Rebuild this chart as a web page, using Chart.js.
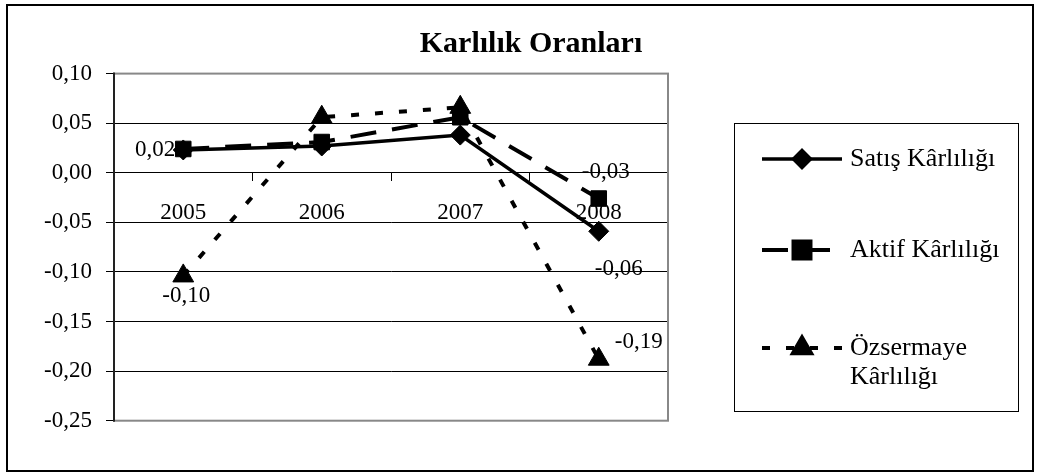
<!DOCTYPE html>
<html><head><meta charset="utf-8">
<script src="https://cdn.jsdelivr.net/npm/chart.js@4/dist/chart.umd.min.js"></script>
<style>html,body{margin:0;padding:0;background:#fff;}canvas{display:block;}</style>
</head><body>
<canvas id="c" width="1040" height="474"></canvas>
<script>
const chartTitle = 'Karlılık Oranları';
const categories = ['2005', '2006', '2007', '2008'];
const seriesNames = ['Satış Kârlılığı', 'Aktif Kârlılığı', 'Özsermaye Kârlılığı'];
const satisKarliligi = [0.023, 0.027, 0.038, -0.059];
const aktifKarliligi = [0.024, 0.031, 0.056, -0.026];
const ozsermayeKarliligi = [-0.104, 0.056, 0.066, -0.188];
const yMin = -0.25, yMax = 0.10, yStep = 0.05;

const FONT = '"Liberation Serif", "Times New Roman", serif';
const fmt = v => {
  const s = (Math.round(v * 100) / 100).toFixed(2);
  return (s === '-0.00' ? '0.00' : s).replace('.', ',');
};

// which points carry a value label, and where the label sits relative to the point
const labelPlacement = {
  '0-0': { dx: -8, dy: 0, align: 'right' },
  '0-3': { dx: 20, dy: 38, align: 'center' },
  '1-3': { dx: 7, dy: -27, align: 'center' },
  '2-0': { dx: 3, dy: 20, align: 'center' },
  '2-3': { dx: 40, dy: -17, align: 'center' }
};

const decor = {
  id: 'decor',
  beforeDraw(chart) {
    const ctx = chart.ctx;
    ctx.save();
    ctx.fillStyle = '#fff';
    ctx.fillRect(0, 0, chart.width, chart.height);
    ctx.strokeStyle = '#000';
    ctx.lineWidth = 2;
    ctx.strokeRect(7, 5, 1026, 466);
    ctx.fillStyle = '#000';
    ctx.font = 'bold 30px ' + FONT;
    ctx.textAlign = 'center';
    ctx.textBaseline = 'middle';
    ctx.fillText(chartTitle, 531, 44);
    ctx.restore();
  },
  beforeDatasetsDraw(chart) {
    const ctx = chart.ctx, a = chart.chartArea;
    ctx.save();
    ctx.strokeStyle = '#888';
    ctx.lineWidth = 2;
    ctx.strokeRect(a.left, a.top, a.right - a.left, a.bottom - a.top);
    ctx.strokeStyle = '#000';
    ctx.lineWidth = 1.5;
    ctx.beginPath();
    ctx.moveTo(a.left, a.top - 1);
    ctx.lineTo(a.left, a.bottom + 1);
    ctx.stroke();
    ctx.restore();
  },
  afterDatasetsDraw(chart) {
    const ctx = chart.ctx;
    ctx.save();
    ctx.fillStyle = '#000';
    ctx.font = '23px ' + FONT;
    ctx.textBaseline = 'middle';
    chart.data.datasets.forEach((ds, di) => {
      const meta = chart.getDatasetMeta(di);
      meta.data.forEach((pt, pi) => {
        const p = labelPlacement[di + '-' + pi];
        if (!p) return;
        ctx.textAlign = p.align;
        ctx.fillText(fmt(ds.data[pi]), pt.x + p.dx, pt.y + p.dy);
      });
    });
    // legend
    const box = { x: 734, y: 123, w: 284, h: 288 };
    ctx.strokeStyle = '#000';
    ctx.lineWidth = 1;
    ctx.strokeRect(box.x + 0.5, box.y + 0.5, box.w, box.h);
    const rows = [159, 250, 348];
    const legendMarker = [8.5, 12, 10.5];
    ctx.font = '26px ' + FONT;
    ctx.textAlign = 'left';
    chart.data.datasets.forEach((ds, di) => {
      const y = rows[di];
      ctx.strokeStyle = '#000';
      ctx.lineWidth = ds.borderWidth;
      ctx.setLineDash(ds.borderDash || []);
      ctx.beginPath();
      ctx.moveTo(762, y);
      ctx.lineTo(842, y);
      ctx.stroke();
      ctx.setLineDash([]);
      ctx.fillStyle = '#000';
      Chart.helpers.drawPoint(ctx, { pointStyle: ds.pointStyle, radius: legendMarker[di], rotation: 0, borderWidth: 1 }, 802, y);
      const words = ds.label.split(' ');
      const lines = [];
      let cur = '';
      words.forEach(w => {
        const t = cur ? cur + ' ' + w : w;
        if (ctx.measureText(t).width > 160 && cur) { lines.push(cur); cur = w; } else cur = t;
      });
      lines.push(cur);
      ctx.fillStyle = '#000';
      lines.forEach((ln, li) => ctx.fillText(ln, 850, y + li * 29));
    });
    ctx.restore();
  }
};

const common = { borderColor: '#000', backgroundColor: '#000', pointBackgroundColor: '#000', pointBorderColor: '#000', pointBorderWidth: 1, tension: 0, fill: false };

new Chart(document.getElementById('c'), {
  type: 'line',
  data: {
    labels: categories,
    datasets: [
      Object.assign({ label: seriesNames[0], data: satisKarliligi, borderWidth: 3.5, pointStyle: 'rectRot', pointRadius: 10, order: 3 }, common),
      Object.assign({ label: seriesNames[1], data: aktifKarliligi, borderWidth: 4, borderDash: [26, 16], pointStyle: 'rect', pointRadius: 11, order: 2 }, common),
      Object.assign({ label: seriesNames[2], data: ozsermayeKarliligi, borderWidth: 4, borderDash: [8, 16], pointStyle: 'triangle', pointRadius: 12, order: 1 }, common)
    ]
  },
  options: {
    responsive: false,
    devicePixelRatio: 1,
    animation: false,
    layout: { padding: { left: 0, top: 73.6, right: 372, bottom: 53.3 } },
    plugins: { legend: { display: false }, tooltip: { enabled: false }, title: { display: false } },
    scales: {
      x: {
        type: 'category',
        position: { y: 0 },
        offset: true,
        grid: { display: true, drawOnChartArea: false, drawTicks: true, tickLength: 8, color: '#000', offset: true },
        border: { display: true, color: '#000', width: 1 },
        ticks: { font: { family: FONT, size: 23 }, color: '#000', padding: 18, maxRotation: 0, autoSkip: false }
      },
      y: {
        min: yMin, max: yMax,
        grid: { color: '#000', lineWidth: 1, tickLength: 8, drawTicks: true },
        border: { display: true, color: '#000', width: 1.5 },
        ticks: { stepSize: yStep, font: { family: FONT, size: 23 }, color: '#000', padding: 14, callback: v => fmt(v) },
        afterFit(s) { s.width = 114; }
      }
    }
  },
  plugins: [decor]
});
</script>
</body></html>
